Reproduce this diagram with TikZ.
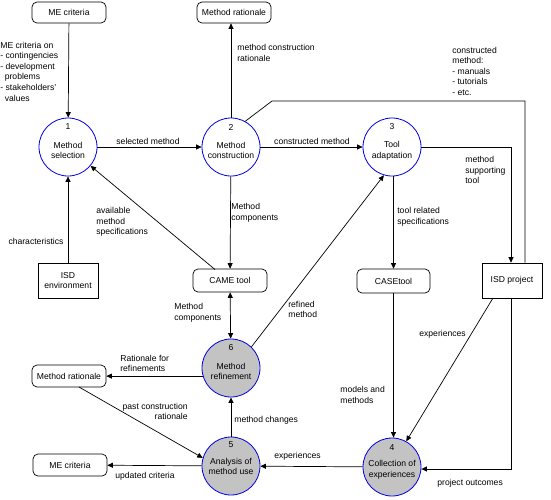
\documentclass[tikz,border=0pt]{standalone}
\usepackage{fontspec}
\setmainfont{Liberation Sans}
\usetikzlibrary{arrows.meta}
\begin{document}
\begin{tikzpicture}[x=1pt,y=-1pt,
  font=\fontsize{8.6}{10.6}\selectfont,
  line width=0.7pt,
  arr/.style={-{Triangle[length=5.5pt,width=5pt]}},
  proc/.style={circle,draw={rgb,255:red,0;green,0;blue,230},line width=0.8pt,minimum size=58pt,inner sep=0pt,fill=white},
  procg/.style={proc,fill={rgb,255:red,195;green,195;blue,195}},
  store/.style={draw,rounded corners=5pt,inner sep=0pt,minimum height=21pt,minimum width=74pt},
  ext/.style={draw,inner sep=0pt,minimum height=35pt,minimum width=60pt,align=center},
  lbl/.style={inner sep=0pt,align=left,anchor=west},
  ctext/.style={inner sep=0pt,align=center}]
\useasboundingbox (0,0) rectangle (551,499);

% processes
\node[proc]  (c1) at (68,147) {};
\node[proc]  (c2) at (231,147) {};
\node[proc]  (c3) at (392,147) {};
\node[procg] (c6) at (231,368) {};
\node[procg] (c5) at (231,466) {};
\node[procg] (c4) at (392,467) {};

\node[ctext] (n1) at (68,127) {1};
\node[ctext] (t1) at (68,150.5) {Method\\selection};
\node[ctext] (n2) at (231,127) {2};
\node[ctext] (t2) at (231,150.5) {Method\\construction};
\node[ctext] (n3) at (392,127) {3};
\node[ctext] (t3) at (392,150.5) {Tool\\adaptation};
\node[ctext] (n6) at (231,348) {6};
\node[ctext] (t6) at (231,371.5) {Method\\refinement};
\node[ctext] (n5) at (231,445) {5};
\node[ctext] (t5) at (231,466.5) {Analysis of\\method use};
\node[ctext] (n4) at (392,448) {4};
\node[ctext] (t4) at (392,469.5) {Collection of\\experiences};

% stores and externals
\node[store] (meT) at (69,12.5) {ME criteria};
\node[store] (mrT) at (234,12.5) {Method rationale};
\node[store,minimum height=23pt] (came) at (230,280.5) {CAME tool};
\node[store,minimum height=24pt,minimum width=73pt] (case) at (393.5,281) {CASEtool};
\node[store,minimum height=22pt] (mrL) at (69,376) {Method rationale};
\node[store,minimum height=22pt] (meB) at (70,465) {ME criteria};
\node[ext] (isdE) at (68,280.5) {ISD\\environment};
\node[ext] (isdP) at (512,280.5) {ISD project};

% helper coordinates
\coordinate (k1) at (272,101);
\coordinate (k2) at (525,101);
\coordinate (k3) at (511,147);
\coordinate (cs) at (215,269.5);
\coordinate (ms) at (79,387);
\coordinate (ps) at (493,298);
\coordinate (pc) at (511,469);

% connectors
\draw[arr] (meT) -- (c1);
\draw[arr] (c1) -- (c2);
\draw[arr] (c2.north) -- (c2.north |- mrT.south);
\draw[arr] (c2) -- (c3);
\draw (c2.61) -- (k1) -- (k2) -- (k2 |- isdP.north);
\draw[arr] (c3.east) -- (k3) -- (k3 |- isdP.north);
\draw[arr] (isdE) -- (c1);
\draw[arr] (cs) -- (c1);
\draw[arr] (c2) -- (came);
\draw[arr] (c3.south -| case) -- (case);
\draw[{Triangle[length=5.5pt,width=5pt]}-{Triangle[length=5.5pt,width=5pt]}] (came) -- (c6);
\draw[arr] (c6.46) -- (c3.-106);
\draw[arr] (c6.196) -- (c6.196 -| mrL.east);
\draw[arr] (ms) -- (c5.164);
\draw[arr] (c5) -- (c6);
\draw[arr] (c4) -- (c5);
\draw[arr] (c5) -- (meB);
\draw[arr] (case) -- (case |- c4.north);
\draw[arr] (ps) -- (c4.61);
\draw[arr] (k3 |- isdP.south) -- (pc) -- (pc -| c4.east);

% labels
\node[lbl,anchor=north west] (l1) at (0,41.5) {ME criteria on\\- contingencies\\- development\\\hspace*{4.5pt}problems\\- stakeholders'\\\hspace*{4.5pt}values};
\node[ctext] (l2) at (148,141) {selected method};
\node[lbl] (l3) at (237,53) {method construction\\rationale};
\node[ctext] (l4) at (312,141) {constructed method};
\node[lbl,anchor=north west] (l5) at (452,46.5) {constructed\\method:\\- manuals\\- tutorials\\- etc.};
\node[lbl] (l6) at (465,170) {method\\supporting\\tool};
\node[ctext] (l7) at (36,241) {characteristics};
\node[lbl] (l8) at (96,222) {available\\method\\specifications};
\node[lbl] (l9) at (231,213) {Method\\components};
\node[lbl] (l10) at (397,216.5) {tool related\\specifications};
\node[lbl] (l11) at (174,312.5) {Method\\components};
\node[lbl] (l12) at (288,309.5) {refined\\method};
\node[lbl] (l13) at (120,363.5) {Rationale for\\refinements};
\node[inner sep=0pt,align=right,anchor=east] (l14) at (188,411.5) {past construction\\rationale};
\node[lbl] (l15) at (234,420) {method changes};
\node[lbl] (l16) at (274,456) {experiences};
\node[lbl] (l17) at (115,476) {updated criteria};
\node[lbl] (l18) at (340,395) {models and\\methods};
\node[lbl] (l19) at (419,334) {experiences};
\node[lbl] (l20) at (437,483) {project outcomes};
\end{tikzpicture}
\end{document}
